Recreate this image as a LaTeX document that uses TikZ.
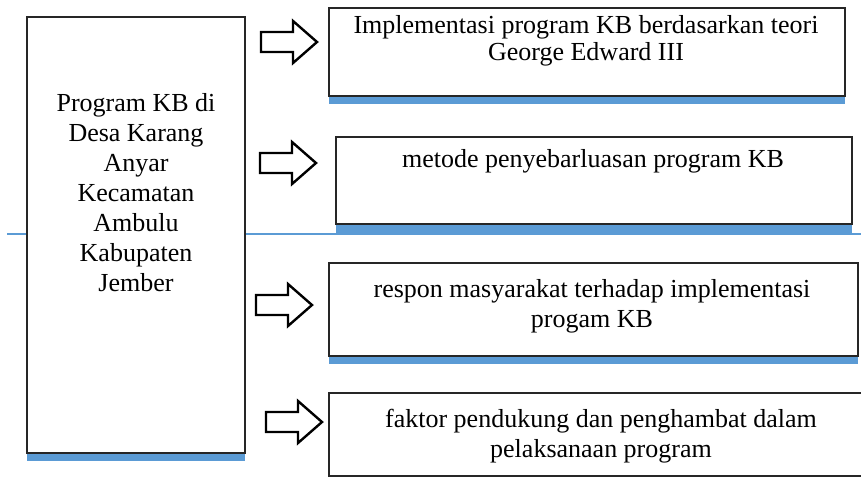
\documentclass[tikz,border=0pt]{standalone}
\usepackage{fontspec}
\setmainfont{Liberation Serif}
\definecolor{shadowblue}{RGB}{91,155,213}
\begin{document}
\begin{tikzpicture}[x=0.5pt,y=-0.5pt,
  framebox/.style={draw=black!85,line width=0.65pt,fill=white},
  shadowbar/.style={fill=shadowblue},
  boxtext/.style={font=\fontsize{13}{15}\selectfont,align=center,inner sep=0pt},
  blockarrow/.pic={\draw[line width=1.2pt,fill=white] (0,-10) -- ++(32,0) -- ++(0,-11)
    -- ++(24,21) -- ++(-24,21) -- ++(0,-11) -- ++(-32,0) -- cycle;}]
  \useasboundingbox (0,0) rectangle (861,477);
  \draw[shadowblue,line width=1pt] (7,234) -- (861,234);
  \fill[shadowbar] (27,453) rectangle (245,461);
  \draw[framebox] (27,17) rectangle (245,453);
  \fill[shadowbar] (329,96) rectangle (845,104);
  \draw[framebox] (329,8) rectangle (845,96);
  \fill[shadowbar] (336,224) rectangle (852,233);
  \draw[framebox] (336,137) rectangle (852,224);
  \fill[shadowbar] (329,356) rectangle (858,364);
  \draw[framebox] (329,263) rectangle (858,356);
  \draw[framebox] (329,393) rectangle (880,476);
  \node[boxtext] (program) at (136,193)
    {Program KB di\\Desa Karang\\Anyar\\Kecamatan\\Ambulu\\Kabupaten\\Jember};
  \node[boxtext,font=\fontsize{13}{13.5}\selectfont] (implementasi) at (586,41)
    {Implementasi program KB berdasarkan teori\\George Edward III};
  \node[boxtext,anchor=base] (metode) at (593,167) {metode penyebarluasan program KB};
  \node[boxtext] (respon) at (592,306)
    {respon masyarakat terhadap implementasi\\progam KB};
  \node[boxtext] (faktor) at (601,436)
    {faktor pendukung dan penghambat dalam\\pelaksanaan program};
  \pic at (261,42) {blockarrow};
  \pic at (260,163) {blockarrow};
  \pic at (256,305) {blockarrow};
  \pic at (266,422) {blockarrow};
\end{tikzpicture}
\end{document}
